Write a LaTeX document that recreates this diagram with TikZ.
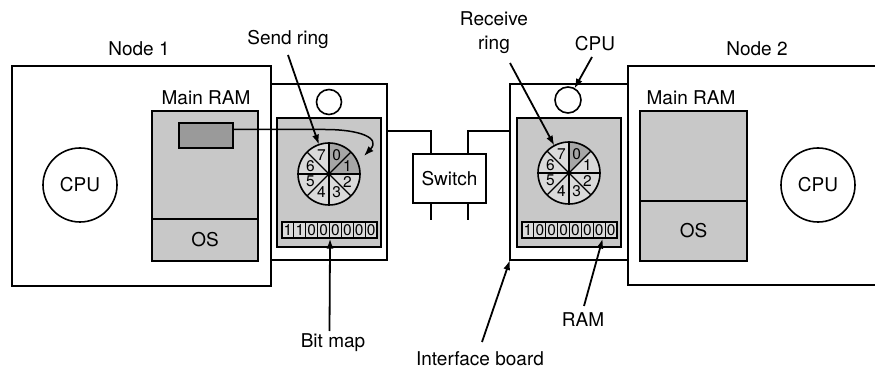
\documentclass[tikz,border=0pt]{standalone}
\usepackage{fontspec}
\setmainfont{TeX Gyre Heros}
\usetikzlibrary{arrows.meta}
\definecolor{ramgray}{HTML}{C8C8C8}
\definecolor{ringlight}{HTML}{DADADA}
\definecolor{sectdark}{HTML}{A6A6A6}
\definecolor{bufdark}{HTML}{9A9A9A}
\tikzset{
  box/.style={draw, line width=1.6pt, inner sep=0pt, outer sep=0pt},
  lbl/.style={font=\fontsize{19}{24}\selectfont, inner sep=0pt, align=center},
  digit/.style={font=\fontsize{15.5}{15.5}\selectfont, inner sep=0pt},
  cell/.style={draw, line width=1.1pt, fill=ringlight, minimum width=11.875pt, minimum height=16pt, inner sep=0pt, font=\fontsize{15.5}{15.5}\selectfont},
  ptr/.style={line width=1.8pt, -{Latex[length=10pt,width=7pt]}},
  wire/.style={line width=1.6pt},
}
\begin{document}
\begin{tikzpicture}[x=1pt,y=-1pt]
\useasboundingbox (0,0) rectangle (875,371);
% Node 1
\node[box, minimum width=259pt, minimum height=220pt] (node1) at (141.5,176) {};
\node[lbl] (n1lbl) at (139,49) {Node 1};
% Node 2 (open to the right)
\coordinate (n2a) at (875,66);
\coordinate (n2b) at (628,66);
\coordinate (n2c) at (628,285);
\coordinate (n2d) at (875,285);
\draw[wire] (n2a) -- (n2b) -- (n2c) -- (n2d);
\node[lbl] (n2lbl) at (757,49) {Node 2};
% Interface boards
\node[box, fill=white, minimum width=116pt, minimum height=176pt] (ifL) at (329,172) {};
\node[box, fill=white, minimum width=118pt, minimum height=176pt] (ifR) at (569,172) {};
\node[box, fill=ramgray, minimum width=104pt, minimum height=129pt] (bufL) at (329,182.5) {};
\node[box, fill=ramgray, minimum width=104pt, minimum height=129pt] (bufR) at (569,182.5) {};
\node[box, circle, minimum size=25pt] (cpuLs) at (329,102) {};
\node[box, circle, minimum size=26pt] (cpuRs) at (568,100) {};
% Main RAMs
\node[box, fill=ramgray, minimum width=106pt, minimum height=150pt] (ramL) at (205,186) {};
\node[box, fill=ramgray, minimum width=106pt, minimum height=42pt, lbl] (osL) at (205,240) {OS};
\node[lbl] (mramL) at (206,98) {Main RAM};
\node[box, fill=bufdark, minimum width=54pt, minimum height=25pt] (bufptr) at (206,135.5) {};
\node[box, fill=ramgray, minimum width=107pt, minimum height=150pt] (ramR) at (693.5,186) {};
\node[box, fill=ramgray, minimum width=107pt, minimum height=60pt, lbl] (osR) at (693.5,231) {OS};
\node[lbl] (mramR) at (691,98) {Main RAM};
% CPUs
\node[box, circle, minimum size=74pt, lbl] (cpu1) at (80,185) {CPU};
\node[box, circle, minimum size=74pt, lbl] (cpu2) at (818,185) {CPU};
% Switch
\node[box, fill=white, minimum width=73pt, minimum height=49pt, lbl] (sw) at (449.5,178.5) {Switch};
\coordinate (wL) at (387,131);
\coordinate (wR) at (510,131);
\coordinate (wB1) at (431,220);
\coordinate (wB2) at (468,220);
\draw[wire] ([xshift=18pt]sw.north west) |- (wL);
\draw[wire] ([xshift=-18pt]sw.north east) |- (wR);
\draw[wire] ([xshift=18pt]sw.south west) -- (wB1);
\draw[wire] ([xshift=-18pt]sw.south east) -- (wB2);
% Rings
\begin{scope}[shift={(329,174)}]
  \fill[ringlight] (0,0) circle (31pt);
  \fill[sectdark] (0,0) -- (90:31pt) arc[start angle=90, end angle=0, radius=31pt] -- cycle;
  \foreach \a in {0,45,90,135} \draw[line width=1.4pt] (\a:31pt) -- (\a+180:31pt);
  \foreach \k in {0,...,7} \node[digit] at ({67.5-45*\k}:20pt) {\k};
\end{scope}
\node[box, circle, minimum size=62pt] (ringL) at (329,174) {};
\begin{scope}[shift={(569,173)}]
  \fill[ringlight] (0,0) circle (31pt);
  \fill[sectdark] (0,0) -- (90:31pt) arc[start angle=90, end angle=45, radius=31pt] -- cycle;
  \foreach \a in {0,45,90,135} \draw[line width=1.4pt] (\a:31pt) -- (\a+180:31pt);
  \foreach \k in {0,...,7} \node[digit] at ({67.5-45*\k}:20pt) {\k};
\end{scope}
\node[box, circle, minimum size=62pt] (ringR) at (569,173) {};
% Bitmaps
\foreach \i/\b in {0/1,1/1,2/0,3/0,4/0,5/0,6/0,7/0}
  \node[cell] (bL\i) at ({282+11.875*(\i+0.5)},230) {\b};
\foreach \i/\b in {0/1,1/0,2/0,3/0,4/0,5/0,6/0,7/0}
  \node[cell] (bR\i) at ({522+11.875*(\i+0.5)},230) {\b};
% Pointer from buffer to send ring
\coordinate (sendtip) at (364,156);
\draw[line width=1.5pt, -{Latex[length=10pt,width=7pt]}] ([yshift=6pt]bufptr.east) -- (325,129.5) .. controls (360,129.5) and (381,138) .. (sendtip);
% Labels with arrows
\node[lbl] (sendlbl) at (288,39) {Send ring};
\coordinate (sendstart) at (288,55);
\draw[ptr] (sendstart) -- (ringL);
\node[lbl] (recvlbl) at (494,33) {Receive\\ring};
\coordinate (recvstart) at (510,63);
\draw[ptr] (recvstart) -- (ringR);
\node[lbl] (cpulbl) at (595,44) {CPU};
\coordinate (cpustart) at (592,57);
\draw[ptr] (cpustart) -- (cpuRs);
\node[lbl] (bitlbl) at (333,343) {Bit map};
\coordinate (bitstart) at (329.5,331);
\draw[ptr] (bitstart) -- (bL3.south east);
\node[lbl] (iflbl) at (480,359) {Interface board};
\coordinate (ifstart) at (482,342);
\draw[ptr] (ifstart) -- (ifR.south west);
\node[lbl] (ramlbl) at (583,320) {RAM};
\coordinate (ramstart) at (584,306);
\draw[ptr] (ramstart) -- ([xshift=-3pt]bR6.south east);
\end{tikzpicture}
\end{document}
